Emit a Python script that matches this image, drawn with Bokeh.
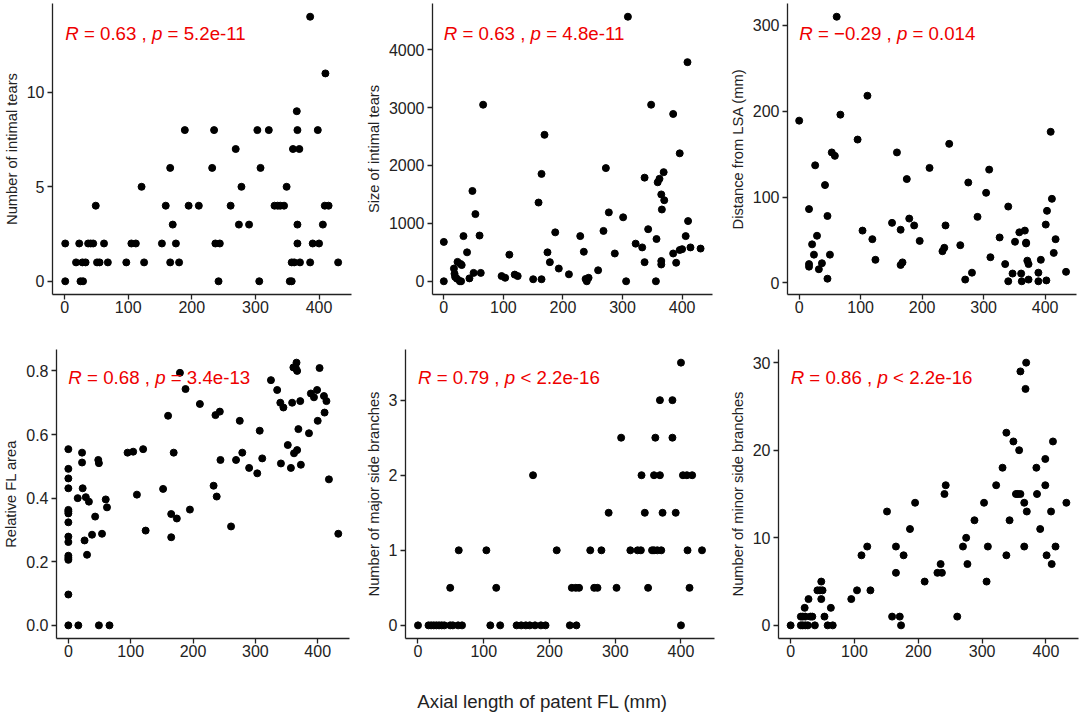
from bokeh.plotting import figure
from bokeh.layouts import column, row
from bokeh.models import Range1d, FixedTicker, Label, PrintfTickFormatter
from bokeh.embed import file_html
from bokeh.resources import INLINE

FONT = "Liberation Sans"
X_TICKS = [0, 100, 200, 300, 400]
X_TITLE = "Axial length of patent FL (mm)"

# Panel 1: number of intimal tears
x1 = [1, 1, 18, 23, 25, 29, 28, 33, 37, 41, 45, 49, 51, 55, 62, 68, 97, 105, 112, 121,
      125, 153, 159, 166, 170, 175, 166, 180, 189, 195, 211, 232, 235, 237, 244, 242, 261, 269, 274, 278,
      290, 303, 308, 306, 321, 330, 335, 339, 345, 349, 354, 359, 361, 365, 366, 366, 366, 369, 370, 386,
      386, 390, 400, 398, 406, 410, 409, 415, 430, 357, 357]
y1 = [0, 2, 1, 2, 0, 0, 1, 1, 2, 2, 2, 4, 1, 1, 2, 1, 1, 2, 2, 5,
      1, 2, 4, 6, 3, 2, 1, 1, 8, 4, 4, 6, 8, 2, 2, 0, 4, 7, 3, 5,
      3, 8, 6, 0, 8, 4, 4, 4, 4, 5, 0, 7, 1, 9, 8, 3, 2, 7, 1, 14,
      1, 2, 2, 8, 3, 11, 4, 4, 1, 1, 0]

# Panel 2: size of intimal tears
x2 = [0, 0, 17, 18, 19, 22, 23, 27, 28, 30, 29, 33, 39, 43, 48, 50, 53, 60, 62, 66,
      97, 103, 110, 119, 124, 150, 159, 164, 164, 169, 174, 178, 187, 193, 210, 229, 235, 238, 240, 243,
      259, 268, 272, 277, 287, 301, 306, 309, 322, 333, 337, 337, 343, 348, 356, 357, 359, 362, 365, 366,
      365, 365, 369, 370, 385, 385, 390, 396, 396, 400, 406, 409, 410, 414, 431]
y2 = [680, 0, 220, 130, 75, 45, 335, 0, 300, 280, 0, 780, 500, 50, 1560, 145, 1160, 790, 145, 3050,
      90, 60, 460, 115, 90, 35, 1360, 1855, 35, 2530, 500, 330, 845, 220, 120, 780, 510, 40, 0, 60,
      190, 870, 1955, 1190, 480, 1105, 0, 4570, 650, 585, 1790, 330, 900, 3050, 0, 730, 1710, 1770, 1500, 1240,
      350, 290, 1885, 1400, 2890, 480, 320, 2210, 540, 555, 780, 3785, 1040, 585, 565]

# Panel 3: distance from LSA
x3 = [0, 16, 16, 16, 21, 24, 26, 29, 32, 37, 42, 46, 46, 50, 53, 58, 61, 67, 95, 103,
      111, 119, 124, 151, 159, 165, 165, 168, 175, 179, 187, 196, 212, 233, 236, 238, 244, 262, 270, 275,
      281, 290, 304, 309, 311, 326, 335, 340, 340, 347, 351, 358, 361, 362, 367, 369, 369, 371, 373, 373,
      389, 389, 393, 401, 402, 403, 409, 411, 414, 417, 434]
y3 = [189, 86, 22, 19, 45, 33, 137, 55, 16, 23, 114, 5, 78, 33, 152, 148, 310, 196, 167, 61,
      218, 51, 27, 70, 152, 62, 21, 24, 121, 75, 67, 49, 134, 37, 41, 67, 162, 44, 4, 117,
      12, 77, 105, 132, 30, 53, 22, 2, 89, 11, 48, 59, 11, 2, 61, 47, 46, 26, 22, 4,
      12, 2, 27, 68, 3, 84, 176, 98, 35, 51, 13]

# Panel 4: relative FL area
x4 = [0, 0, 0, 0, 0, 0, 0, 0, 0, 0, 0, 0, 0, 0, 0,
      15, 16, 22, 22, 23, 26, 28, 33, 30, 38, 43, 48, 49, 49, 54, 60, 62, 66, 95, 104,
      110, 120, 124, 152, 160, 165, 165, 169, 174, 179, 188, 195, 211, 233, 236, 243, 238, 244, 261, 269,
      275, 279, 290, 303, 307, 311, 325, 335, 340, 345, 341, 352, 357, 359, 361, 362, 365, 366, 367, 367,
      369, 372, 373, 386, 389, 394, 399, 400, 403, 410, 411, 414, 418, 433]
y4 = [0.554, 0.492, 0.462, 0.431, 0.363, 0.358, 0.352, 0.324, 0.279, 0.262, 0.219, 0.212, 0.206, 0.097, 0.0,
      0.40, 0.0, 0.543, 0.512, 0.431, 0.267, 0.403, 0.389, 0.222, 0.285, 0.342, 0.52, 0.51, 0.0, 0.288, 0.396, 0.371, 0.0, 0.543, 0.546,
      0.411, 0.554, 0.298, 0.429, 0.659, 0.350, 0.277, 0.543, 0.336, 0.794, 0.743, 0.364, 0.696, 0.439, 0.661, 0.672, 0.405, 0.52, 0.311, 0.52,
      0.643, 0.543, 0.495, 0.478, 0.612, 0.525, 0.771, 0.74, 0.70, 0.685, 0.509, 0.567, 0.495, 0.70, 0.811, 0.541, 0.808, 0.826, 0.80, 0.551,
      0.617, 0.705, 0.505, 0.604, 0.729, 0.717, 0.74, 0.643, 0.809, 0.721, 0.669, 0.705, 0.459, 0.288]

# Panel 5: number of major side branches
x5 = [0, 16, 20, 24, 28, 32, 36, 40, 49, 53, 61, 67, 110, 125, 150, 157, 164, 170, 178, 187, 194, 231, 241, 400,
      49, 119, 234, 240, 245, 268, 273, 302, 350, 413,
      62, 104, 211, 262, 279, 323, 334, 339, 356, 359, 364, 370, 410, 432,
      290, 345, 372, 392,
      175, 340, 359, 368, 403, 409, 417,
      309, 361, 387,
      368, 387,
      400]
y5 = [0, 0, 0, 0, 0, 0, 0, 0, 0, 0, 0, 0, 0, 0, 0, 0, 0, 0, 0, 0, 0, 0, 0, 0,
      0.5, 0.5, 0.5, 0.5, 0.5, 0.5, 0.5, 0.5, 0.5, 0.5,
      1, 1, 1, 1, 1, 1, 1, 1, 1, 1, 1, 1, 1, 1,
      1.5, 1.5, 1.5, 1.5,
      2, 2, 2, 2, 2, 2, 2,
      2.5, 2.5, 2.5,
      3, 3,
      3.5]

# Panel 6: number of minor side branches
x6 = [0, 16, 19, 23, 27, 16, 19, 23, 22, 28, 31, 34, 38, 42, 46, 48, 48, 50, 53, 58,
      66, 63, 95, 104, 111, 120, 125, 151, 159, 165, 165, 171, 173, 177, 187, 195, 210, 230, 235, 237,
      241, 243, 261, 270, 275, 277, 288, 303, 307, 309, 322, 332, 338, 338, 343, 349, 353, 356, 360, 358,
      360, 366, 366, 368, 369, 370, 385, 386, 391, 399, 399, 401, 408, 409, 411, 415, 432]
y6 = [0, 0, 0, 0, 0, 1, 1, 1, 2, 3, 1, 1, 0, 4, 4, 5, 3, 4, 1, 0,
      0, 2, 3, 4, 8, 9, 4, 13, 1, 6, 9, 1, 0, 8, 11, 14, 5, 6, 7, 6,
      15, 16, 1, 9, 10, 7, 12, 14, 5, 9, 16, 18, 22, 8, 12, 21, 15, 15, 15, 20,
      29, 14, 9, 27, 30, 13, 18, 15, 11, 19, 16, 8, 13, 7, 21, 9, 14]

y_labels = ["Number of intimal tears", "Size of intimal tears", "Distance from LSA (mm)",
            "Relative FL area", "Number of major side branches", "Number of minor side branches"]
y_ticks = [[0, 5, 10], [0, 1000, 2000, 3000, 4000], [0, 100, 200, 300],
           [0.0, 0.2, 0.4, 0.6, 0.8], [0, 1, 2, 3], [0, 10, 20, 30]]
r_values = ["0.63", "0.63", "\u22120.29", "0.68", "0.79", "0.86"]
p_ops = ["=", "=", "=", "=", "<", "<"]
p_values = ["5.2e-11", "4.8e-11", "0.014", "3.4e-13", "2.2e-16", "2.2e-16"]

# layout (px): width, height, borders left/right/top/bottom, label offset below frame top
layout = [
    (362, 330, 50, 11, 3, 36, 29.7),
    (358, 330, 70, 8, 3, 36, 29.7),
    (364, 330, 67, 8, 3, 36, 29.7),
    (362, 338, 54, 13, 19, 30, 28.0),
    (358, 338, 43, 6, 19, 30, 28.0),
    (364, 338, 58, 6, 19, 30, 28.0),
]

ARIAL = {' ': 278, '=': 584, '<': 584, '.': 278, ',': 278, 'e': 556, '-': 333,
         '\u2212': 584, 'R': 722, 'p': 556}
for d in "0123456789":
    ARIAL[d] = 556
LFS = 18.7


def tw(s):
    return sum(ARIAL.get(c, 556) for c in s) * LFS / 1000.0


AX_COL = "#222222"
xs_all = [x1, x2, x3, x4, x5, x6]
ys_all = [y1, y2, y3, y4, y5, y6]
figs = []
for i in range(6):
    xs, ys = xs_all[i], ys_all[i]
    w, h, bl, br, bt, bb, toff = layout[i]
    ymin, ymax = min(ys), max(ys)
    pad = 0.05 * (ymax - ymin)
    y0, y1r = ymin - pad, ymax + pad
    p = figure(width=w, height=h, output_backend="svg", toolbar_location=None,
               x_range=Range1d(-19, 451), y_range=Range1d(y0, y1r),
               min_border_left=bl, min_border_right=br, min_border_top=bt, min_border_bottom=bb)
    p.outline_line_color = None
    p.xgrid.visible = False
    p.ygrid.visible = False
    p.background_fill_color = "white"
    p.border_fill_color = "white"
    p.scatter(xs, ys, size=7, color="black", line_color="black")
    p.xaxis.ticker = FixedTicker(ticks=X_TICKS)
    p.yaxis.ticker = FixedTicker(ticks=y_ticks[i])
    if i == 3:
        p.yaxis.formatter = PrintfTickFormatter(format="%.1f")
    for ax in (p.xaxis, p.yaxis):
        ax.axis_line_color = AX_COL
        ax.axis_line_width = 1.3
        ax.major_tick_line_color = AX_COL
        ax.major_tick_line_width = 1.3
        ax.major_tick_out = 5
        ax.major_tick_in = 0
        ax.minor_tick_out = 0
        ax.minor_tick_in = 0
        ax.major_label_text_font = FONT
        ax.major_label_text_font_size = "16px"
        ax.major_label_text_color = AX_COL
    p.xaxis.major_label_standoff = 1
    p.yaxis.major_label_standoff = 3
    p.yaxis.axis_label = y_labels[i]
    p.yaxis.axis_label_text_font = FONT
    p.yaxis.axis_label_text_font_size = "14.7px"
    p.yaxis.axis_label_text_font_style = "normal"
    p.yaxis.axis_label_text_color = AX_COL
    p.yaxis.axis_label_standoff = 4

    frame_h = h - bt - bb
    ty = y1r - toff * (y1r - y0) / frame_h
    tx = min(xs)
    r_txt = "= " + r_values[i] + " ,"
    p_txt = p_ops[i] + " " + p_values[i]
    pieces = [("R", "italic", 0.0),
              (r_txt, "normal", tw("R ")),
              ("p", "italic", tw("R " + r_txt + " ")),
              (p_txt, "normal", tw("R " + r_txt + " p "))]
    for txt, style, off in pieces:
        p.add_layout(Label(x=tx, y=ty, x_offset=off, text=txt, text_font=FONT,
                           text_font_size=f"{LFS}px", text_font_style=style,
                           text_color="#EE0000", text_baseline="middle", text_align="left"))
    figs.append(p)

tf = figure(width=1084, height=44, output_backend="svg", toolbar_location=None,
            x_range=Range1d(0, 1), y_range=Range1d(0, 1),
            min_border_left=0, min_border_right=0, min_border_top=0, min_border_bottom=0,
            x_axis_type=None, y_axis_type=None)
tf.outline_line_color = None
tf.xgrid.visible = False
tf.ygrid.visible = False
tf.add_layout(Label(x=542 / 1084, y=0.25, text=X_TITLE, text_font=FONT, text_font_size="18.7px",
                    text_color=AX_COL, text_align="center", text_baseline="middle"))

lay = column(row(figs[0], figs[1], figs[2]), row(figs[3], figs[4], figs[5]), tf)
open("out.html", "w").write(file_html(lay, INLINE))
